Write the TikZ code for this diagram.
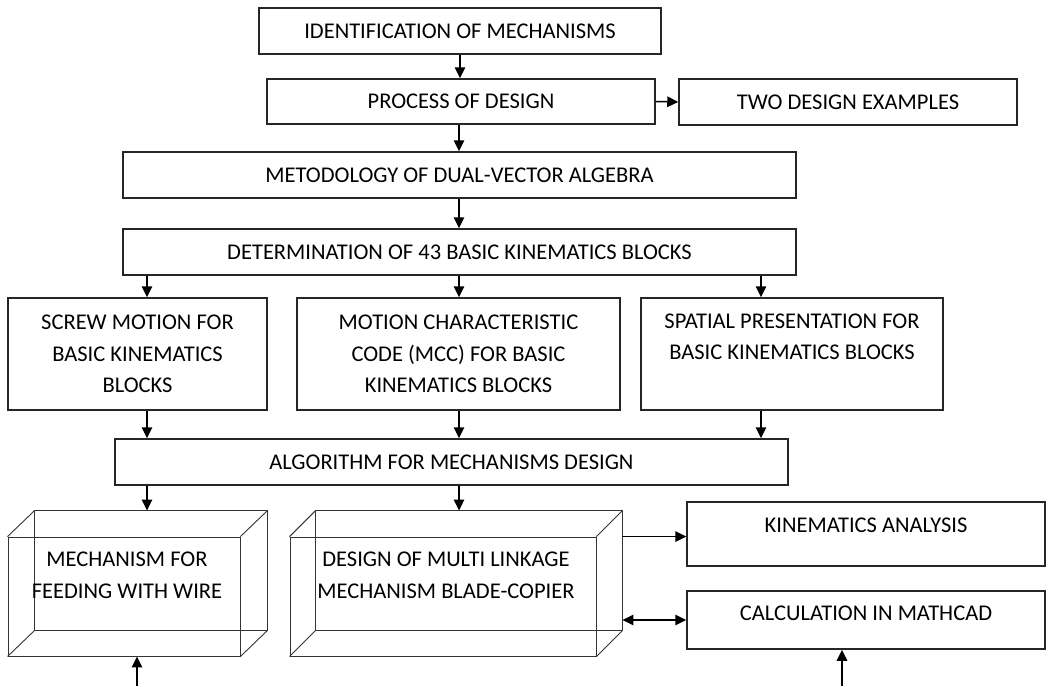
\documentclass[tikz,border=0pt]{standalone}
\usepackage{fontspec}
\setmainfont{Carlito}
\usetikzlibrary{arrows.meta}
\tikzset{
  txt/.style={font=\fontsize{22.5}{31.5}\selectfont, align=center},
  box/.style={txt, draw=black!85, line width=1.5pt, inner sep=0pt},
  lbl/.style={txt, inner sep=0pt},
  cube/.style={draw=black!80, line width=0.9pt},
  arr/.style={line width=1.5pt, -{Triangle[length=11pt,width=10.5pt]}},
  darr/.style={line width=1.5pt, {Triangle[length=11pt,width=10.5pt]}-{Triangle[length=11pt,width=10.5pt]}},
}
\begin{document}
\begin{tikzpicture}[x=1pt,y=-1pt]
\useasboundingbox (0,0) rectangle (1048,686);

% column guides
\coordinate (cL) at (147,0);
\coordinate (cM) at (459,0);
\coordinate (cR) at (761,0);

% boxes
\node[box, minimum width=402, minimum height=46] (ident) at (460,31) {IDENTIFICATION OF MECHANISMS};
\node[box, minimum width=388, minimum height=45] (proc) at (461,101.5) {PROCESS OF DESIGN};
\node[box, minimum width=338, minimum height=46] (two) at (848,102) {TWO DESIGN EXAMPLES};
\node[box, minimum width=673, minimum height=46] (meth) at (459.5,175) {METODOLOGY OF DUAL-VECTOR ALGEBRA};
\node[box, minimum width=673, minimum height=46] (det) at (459.5,252) {DETERMINATION OF 43 BASIC KINEMATICS BLOCKS};
\node[box, minimum width=259, minimum height=112] (screw) at (137.5,354) {SCREW MOTION FOR\\BASIC KINEMATICS\\BLOCKS};
\node[box, minimum width=323, minimum height=112] (mcc) at (458.5,354) {MOTION CHARACTERISTIC\\CODE (MCC) FOR BASIC\\KINEMATICS BLOCKS};
\node[box, minimum width=302, minimum height=112] (spat) at (792,354) {};
\node[lbl] (spatt) at (792,337) {SPATIAL PRESENTATION FOR\\BASIC KINEMATICS BLOCKS};
\node[box, minimum width=673, minimum height=46] (alg) at (451.5,462) {ALGORITHM FOR MECHANISMS DESIGN};
\node[box, minimum width=358, minimum height=64] (kin) at (866,534) {};
\node[lbl] (kint) at (866,525) {KINEMATICS ANALYSIS};
\node[box, minimum width=358, minimum height=58] (calc) at (866,620) {};
\node[lbl] (calct) at (866,613) {CALCULATION IN MATHCAD};

% 3D boxes (front faces)
\node[cube, minimum width=232, minimum height=119, inner sep=0pt] (box1) at (124,596.5) {};
\node[cube, minimum width=306, minimum height=119, inner sep=0pt] (box2) at (443,596.5) {};
\foreach \b/\dx in {box1/27, box2/26}{
  \draw[cube] ([shift={(\dx,-26)}]\b.north west) rectangle ([shift={(\dx,-26)}]\b.south east);
  \draw[cube] (\b.north west) -- ++(\dx,-26);
  \draw[cube] (\b.north east) -- ++(\dx,-26);
  \draw[cube] (\b.south west) -- ++(\dx,-26);
  \draw[cube] (\b.south east) -- ++(\dx,-26);
}
\coordinate (b1top) at ([shift={(27,-26)}]box1.north);
\coordinate (b2top) at ([shift={(26,-26)}]box2.north);
\coordinate (b2ne) at ([shift={(26,-26)}]box2.north east);
\node[lbl] (box1t) at (127,575.5) {MECHANISM FOR\\FEEDING WITH WIRE};
\node[lbl] (box2t) at (446,575.5) {DESIGN OF MULTI LINKAGE\\MECHANISM BLADE-COPIER};

% connectors
\draw[arr] (ident.south) -- (ident.south |- proc.north);
\draw[arr] (proc.east) -- (two.west);
\draw[arr] (proc.south -| cM) -- (cM |- meth.north);
\draw[arr] (cM |- meth.south) -- (cM |- det.north);
\draw[arr] (cL |- det.south) -- (cL |- screw.north);
\draw[arr] (cM |- det.south) -- (cM |- mcc.north);
\draw[arr] (cR |- det.south) -- (cR |- spat.north);
\draw[arr] (cL |- screw.south) -- (cL |- alg.north);
\draw[arr] (cM |- mcc.south) -- (cM |- alg.north);
\draw[arr] (cR |- spat.south) -- (cR |- alg.north);
\draw[arr] (cL |- alg.south) -- (cL |- b1top);
\draw[arr] (cM |- alg.south) -- (cM |- b2top);
\draw[arr] (b2ne |- box2.north) -- (kin.west |- box2.north);
\draw[darr] (b2ne |- calc.west) -- (calc.west);
\coordinate (in1) at (137,686);
\coordinate (in2) at (842,686);
\draw[arr] (in1) -- (in1 |- box1.south);
\draw[arr] (in2) -- (in2 |- calc.south);
\end{tikzpicture}
\end{document}
